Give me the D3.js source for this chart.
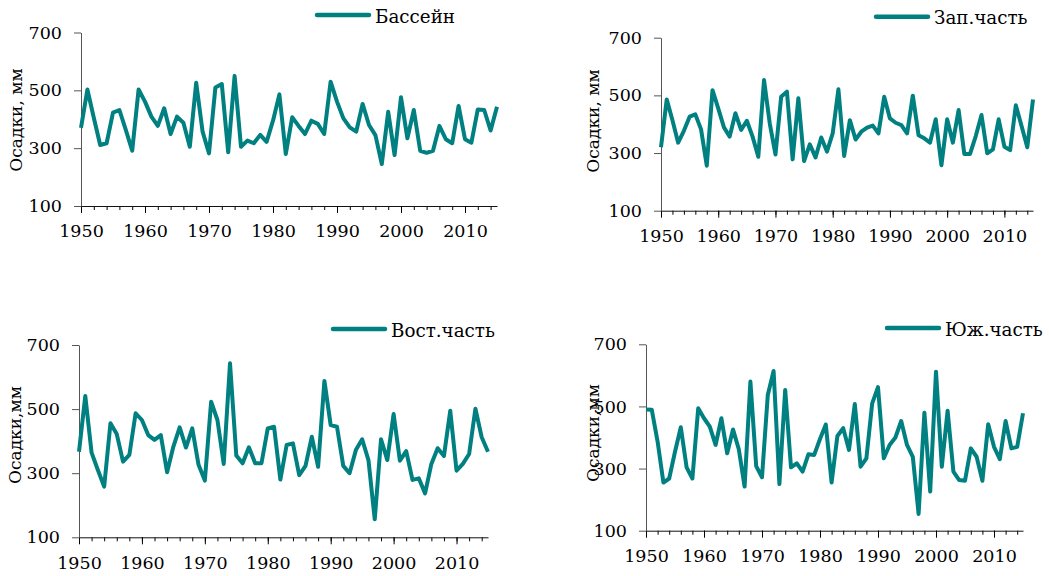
<!DOCTYPE html>
<meta charset="utf-8">
<style>
body { margin: 0; background: #fff; }
svg text { font-family: "DejaVu Serif", serif; fill: #000; }
</style>
<body>
<script src="https://cdnjs.cloudflare.com/ajax/libs/d3/7.8.5/d3.min.js"></script>
<script>

var width = 1049,
    height = 576;

var years = d3.range(1950, 2016);

var basin = [370, 503, 405, 311, 317, 423, 432, 363, 291, 503,
             461, 409, 377, 438, 349, 409, 388, 305, 526, 357,
             282, 510, 522, 286, 550, 305, 326, 317, 346, 322,
             395, 486, 280, 407, 377, 349, 395, 384, 349, 530,
             461, 403, 372, 357, 453, 380, 345, 245, 426, 276,
             476, 334, 432, 291, 284, 291, 377, 331, 317, 446,
             331, 319, 434, 432, 361, 443];

var west = [320, 486, 414, 336, 377, 426, 434, 382, 256, 518,
            455, 389, 357, 438, 380, 412, 357, 287, 553, 403,
            295, 495, 513, 278, 490, 272, 330, 285, 354, 305,
            368, 521, 290, 414, 347, 374, 388, 395, 368, 495,
            420, 405, 397, 368, 499, 362, 351, 336, 417, 258,
            417, 336, 449, 297, 297, 359, 432, 299, 313, 417,
            322, 310, 466, 394, 320, 486];

var east = [367, 541, 364, 310, 258, 456, 422, 336, 357, 487,
            466, 419, 404, 419, 303, 383, 443, 380, 440, 326,
            277, 523, 466, 329, 643, 355, 331, 381, 331, 331,
            440, 445, 280, 388, 393, 294, 323, 414, 320, 588,
            450, 445, 323, 300, 372, 406, 341, 156, 406, 341,
            485, 339, 369, 279, 284, 237, 329, 378, 354, 495,
            308, 329, 360, 501, 412, 367];

var south = [490, 489, 387, 255, 268, 354, 433, 304, 268, 494,
             462, 435, 376, 462, 349, 426, 362, 242, 580, 308,
             272, 537, 614, 250, 553, 304, 317, 290, 346, 344,
             395, 442, 255, 405, 430, 360, 508, 306, 333, 510,
             562, 333, 376, 400, 453, 376, 338, 154, 480, 226,
             612, 306, 486, 290, 263, 261, 365, 338, 261, 443,
             370, 330, 453, 365, 370, 478];

var names = ["Бассейн", "Зап.часть", "Вост.часть", "Юж.часть"];
var yTitles = ["Осадки, мм", "Осадки, мм", "Осадки,мм", "Осадки,мм"];
var yTicks = [100, 300, 500, 700];

var color = "#008080";

var panels = [
  {values: basin, x0: 81,  x1: 497,  top: 32.5, bottom: 206,   tx: 15.5, ty: 120, lx: 317, ly: 15},
  {values: west,  x0: 661, x1: 1033, top: 37.7, bottom: 210.7, tx: 593,  ty: 121, lx: 876, ly: 16.7},
  {values: east,  x0: 79,  x1: 488,  top: 345,  bottom: 537.3, tx: 15,   ty: 435, lx: 333, ly: 329},
  {values: south, x0: 646, x1: 1023, top: 344.3, bottom: 530.7, tx: 593, ty: 433, lx: 887, ly: 328}
];

var svg = d3.select("body").append("svg")
    .attr("width", width)
    .attr("height", height);

panels.forEach(function(p, i) {
    var x = d3.scaleLinear().domain([1950, 2015]).range([p.x0, p.x1]);
    var y = d3.scaleLinear().domain([100, 700]).range([p.bottom, p.top]);

    var g = svg.append("g");

    // minor ticks every 2 years
    g.append("g")
        .attr("transform", "translate(0," + p.bottom + ")")
        .call(d3.axisBottom(x)
            .tickValues(d3.range(1950, 2016, 2))
            .tickSize(4)
            .tickFormat(""))
        .call(function(a) { a.select(".domain").remove(); });

    g.append("g")
        .attr("transform", "translate(0," + p.bottom + ")")
        .call(d3.axisBottom(x)
            .tickValues([1950, 1960, 1970, 1980, 1990, 2000, 2010])
            .tickSize(7)
            .tickSizeOuter(0)
            .tickPadding(12)
            .tickFormat(d3.format("d")))
        .call(function(a) {
            a.selectAll("text").style("font-size", "17.5px");
            a.select(".domain").attr("stroke", "#111");
        });

    g.append("g")
        .attr("transform", "translate(" + p.x0 + ",0)")
        .call(d3.axisLeft(y)
            .tickValues(yTicks)
            .tickSize(7)
            .tickSizeOuter(0)
            .tickPadding(12))
        .call(function(a) {
            a.selectAll("text").style("font-size", "17.5px");
            a.select(".domain").attr("stroke", "#555");
            a.selectAll(".tick line").attr("stroke", "#555");
        });

    g.append("text")
        .attr("transform", "translate(" + p.tx + "," + p.ty + ") rotate(-90)")
        .attr("text-anchor", "middle")
        .attr("dominant-baseline", "central")
        .style("font-size", "17px")
        .text(yTitles[i]);

    var line = d3.line()
        .x(function(d, j) { return x(years[j]); })
        .y(function(d) { return y(d); });

    g.append("path")
        .datum(p.values)
        .attr("fill", "none")
        .attr("stroke", color)
        .attr("stroke-width", 4)
        .attr("stroke-linejoin", "round")
        .attr("d", line);

    // legend
    g.append("line")
        .attr("x1", p.lx).attr("x2", p.lx + 52)
        .attr("y1", p.ly).attr("y2", p.ly)
        .attr("stroke", color)
        .attr("stroke-width", 4.5)
        .attr("stroke-linecap", "round");

    g.append("text")
        .attr("x", p.lx + 58)
        .attr("y", p.ly + 7.5)
        .style("font-size", "18.3px")
        .text(names[i]);
});
</script>
